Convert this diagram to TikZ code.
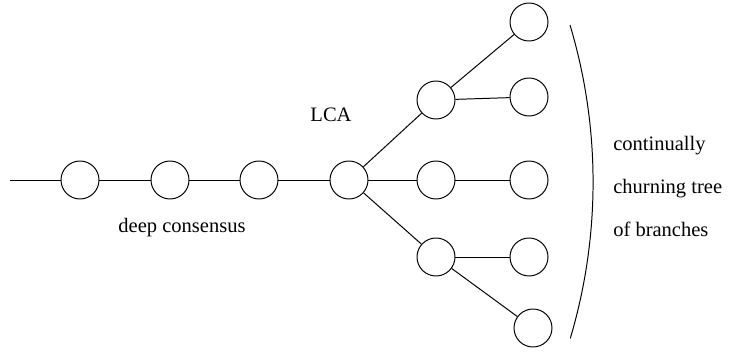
\documentclass[tikz,border=0pt]{standalone}
\usepackage{fontspec}
\setmainfont{Liberation Serif}
\usepackage{tikz}
\usetikzlibrary{positioning,calc}
\tikzset{
  blocknd/.style={circle, draw, line width=0.7pt, minimum size=0.95cm, inner sep=0pt},
  linkln/.style={line width=0.7pt},
  labeltxt/.style={font=\rmfamily\fontsize{14.6}{30.6}\selectfont, inner sep=0pt},
}

\begin{document}
\begin{tikzpicture}
    \useasboundingbox (0,0) rectangle (18.3,8.8);
    % ----- deep consensus -----
    \coordinate (start) at (0.25,4.3);
    \node[blocknd] (c1) at (2.0,4.3) {};
    \node[blocknd] (c2) at (4.25,4.3) {};
    \node[blocknd] (c3) at (6.475,4.3) {};
    \node[blocknd] (lca) at (8.725,4.3) {};
    \draw[linkln] (start) -- (c1) -- (c2) -- (c3) -- (lca);
    % ----- branches -----
    \node[blocknd] (up) at (10.9,6.3) {};
    \node[blocknd] (mid) at (10.9,4.3) {};
    \node[blocknd] (low) at (10.9,2.375) {};
    \node[blocknd] (up1) at (13.225,8.25) {};
    \node[blocknd] (up2) at (13.225,6.375) {};
    \node[blocknd] (mid1) at (13.225,4.3) {};
    \node[blocknd] (low1) at (13.225,2.375) {};
    \node[blocknd] (low2) at (13.325,0.6) {};
    \draw[linkln] (lca) -- (up);
    \draw[linkln] (lca) -- (mid);
    \draw[linkln] (lca) -- (low);
    \draw[linkln] (up) -- (up1);
    \draw[linkln] (up) -- (up2);
    \draw[linkln] (mid) -- (mid1);
    \draw[linkln] (low) -- (low1);
    \draw[linkln] (low) -- (low2);
    % bracket round the tips
    \draw[linkln] (14.25,8.175) arc[start angle=16.7, end angle=-16.6, radius=13.675cm];
    % ----- labels -----
    \node[labeltxt] (lcalbl) at (8.275,5.925) {LCA};
    \node[labeltxt] (deeplbl) at (4.55,3.1) {deep consensus};
    \node[labeltxt, anchor=west, align=left] (churnlbl) at (15.325,4.15)
      {continually\\churning tree\\of branches};
\end{tikzpicture}
\end{document}
